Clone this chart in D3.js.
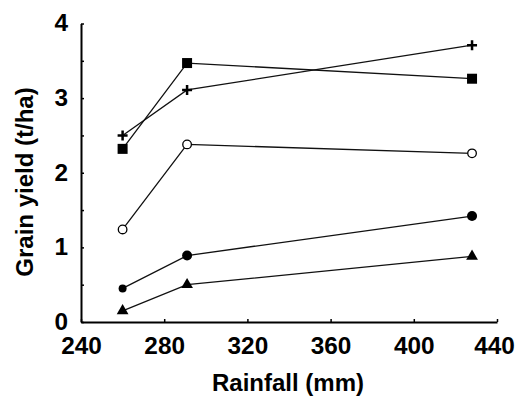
<!DOCTYPE html>
<html>
<head>
<meta charset="utf-8">
<script src="https://cdn.jsdelivr.net/npm/d3@7"></script>
<style>
  html, body { margin: 0; padding: 0; background: #fff; }
  svg { display: block; }
  text { font-family: "Liberation Sans", Arial, sans-serif; font-weight: bold; fill: #000; }
</style>
</head>
<body>
<svg id="chart" width="517" height="396"></svg>
<script>
// Data
const rainfall = [260, 291, 428];
const seriesPlus     = [2.50, 3.11, 3.71];
const seriesSquare   = [2.32, 3.47, 3.26];
const seriesOpen     = [1.24, 2.38, 2.26];
const seriesFilled   = [0.45, 0.89, 1.42];
const seriesTriangle = [0.15, 0.50, 0.88];
const xTicks = [240, 280, 320, 360, 400, 440];
const yTicks = [0, 0.5, 1, 1.5, 2, 2.5, 3, 3.5, 4];
const xTitle = "Rainfall (mm)";
const yTitle = "Grain yield (t/ha)";

const series = [
  { name: "plus", values: seriesPlus, symbol: "plus" },
  { name: "square", values: seriesSquare, symbol: "square" },
  { name: "open", values: seriesOpen, symbol: "openCircle" },
  { name: "filled", values: seriesFilled, symbol: "filledCircle" },
  { name: "triangle", values: seriesTriangle, symbol: "triangle" }
];

const svg = d3.select("#chart");
const x = d3.scaleLinear().domain([240, 440]).range([81, 497]);
const y = d3.scaleLinear().domain([0, 4]).range([322, 23.5]);

const stretch = 1.06;

// Axes
const gx = svg.append("g").attr("transform", `translate(0,${y(0)})`)
  .call(d3.axisBottom(x).tickValues(xTicks).tickSize(-3).tickSizeOuter(0).tickPadding(15.5).tickFormat(d3.format("d")));
const gy = svg.append("g").attr("transform", `translate(${x(240)},0)`)
  .call(d3.axisLeft(y).tickValues(yTicks).tickSize(-3).tickSizeOuter(0).tickPadding(13 / stretch)
    .tickFormat(d => Number.isInteger(d) ? d : ""));

[gx, gy].forEach(g => {
  g.select(".domain").attr("stroke", "#000").attr("stroke-width", 2);
  g.selectAll(".tick line").attr("stroke", "#000").attr("stroke-width", 1.5);
  g.selectAll(".tick text").style("font-size", "23px").style("font-family", '"Liberation Sans", Arial, sans-serif')
    .style("font-weight", "bold").attr("fill", "#000").attr("transform", `scale(${stretch},1)`);
});
// keep the last x label inside the frame, as in the reference
gx.selectAll(".tick text").filter(d => d === 440).attr("x", -3 / stretch);

// Titles
svg.append("text").attr("x", 288).attr("y", 391).attr("text-anchor", "middle")
  .style("font-size", "24px").text(xTitle);
svg.append("text").attr("transform", "translate(33,182) rotate(-90)").attr("text-anchor", "middle")
  .style("font-size", "24px").text(yTitle);

// Lines
const line = d3.line().x((d, i) => x(rainfall[i])).y(d => y(d));
svg.append("g").selectAll("path").data(series).join("path")
  .attr("d", s => line(s.values))
  .attr("fill", "none").attr("stroke", "#111").attr("stroke-width", 1.3);

// Markers
series.forEach(s => {
  const g = svg.append("g");
  s.values.forEach((v, i) => {
    const cx = x(rainfall[i]), cy = y(v);
    if (s.symbol === "plus") {
      g.append("path").attr("d", `M${cx-5},${cy}H${cx+5}M${cx},${cy-5}V${cy+5}`)
        .attr("stroke", "#000").attr("stroke-width", 2.5).attr("fill", "none");
    } else if (s.symbol === "square") {
      g.append("rect").attr("x", cx-5).attr("y", cy-5).attr("width", 10).attr("height", 10).attr("fill", "#000");
    } else if (s.symbol === "openCircle") {
      g.append("circle").attr("cx", cx).attr("cy", cy).attr("r", 4.3)
        .attr("fill", "#fff").attr("stroke", "#000").attr("stroke-width", 1.3);
    } else if (s.symbol === "filledCircle") {
      g.append("circle").attr("cx", cx).attr("cy", cy).attr("r", i === 0 ? 4 : 5).attr("fill", "#000");
    } else if (s.symbol === "triangle") {
      g.append("path").attr("d", d3.symbol(d3.symbolTriangle, 60)()).attr("transform", `translate(${cx},${cy})`).attr("fill", "#000");
    }
  });
});
</script>
</body>
</html>
